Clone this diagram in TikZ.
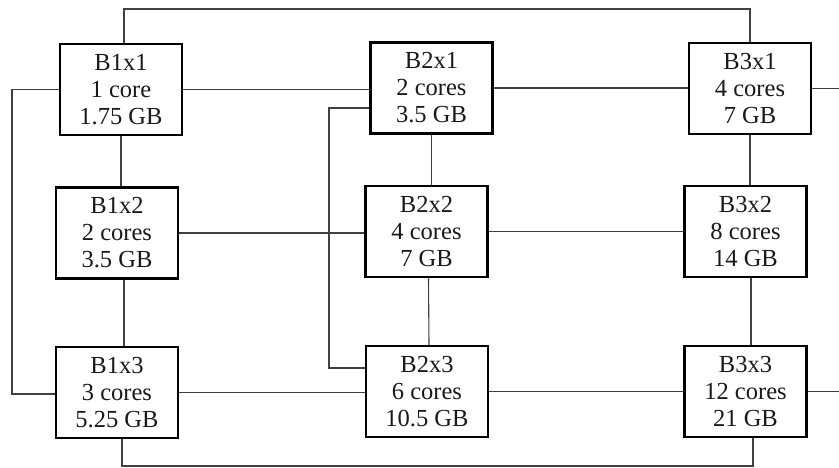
\documentclass[tikz,border=0pt]{standalone}
\usepackage{fontspec}
\setmainfont{Liberation Serif}
\begin{document}
\begin{tikzpicture}[x=1pt,y=-1pt,
  vm/.style={draw=black,line width=2.2pt,minimum width=122pt,minimum height=91pt,inner sep=0pt,
    align=center,font=\fontsize{24.5}{27}\selectfont,text=black!90},
  link/.style={draw=black!75,line width=1.1pt}]
\useasboundingbox (0,0) rectangle (839,468);
\node[vm] (b11) at (121,89.5) {B1x1\\1 core\\1.75 GB};
\node[vm] (b12) at (117,233) {B1x2\\2 cores\\3.5 GB};
\node[vm] (b13) at (117,392.5) {B1x3\\3 cores\\5.25 GB};
\node[vm] (b21) at (431.5,88) {B2x1\\2 cores\\3.5 GB};
\node[vm] (b22) at (426.5,231.5) {B2x2\\4 cores\\7 GB};
\node[vm] (b23) at (427,391.5) {B2x3\\6 cores\\10.5 GB};
\node[vm] (b31) at (750,88.5) {B3x1\\4 cores\\7 GB};
\node[vm] (b32) at (745.5,231.5) {B3x2\\8 cores\\14 GB};
\node[vm] (b33) at (745.5,391.5) {B3x3\\12 cores\\21 GB};
\coordinate (tl) at (124,9);
\coordinate (ll) at (12,240);
\coordinate (ml) at (329,240);
\coordinate (bl) at (122,466);
\coordinate (re1) at (839,88.5);
\coordinate (re3) at (839,391.5);
% top loop
\draw[link] ([xshift=3pt]b11.north) |- (tl) -| (b31.north);
% rows
\draw[link] (b11.east) -- (b11.east -| b21.west);
\draw[link] (b21.east) -- (b21.east -| b31.west);
\draw[link] (b31.east) -- (re1);
\draw[link] (b12.east) -- (b12.east -| b22.west);
\draw[link] (b22.east) -- (b32.west);
\draw[link] (b13.east) -- (b13.east -| b23.west);
\draw[link] (b23.east) -- (b33.west);
\draw[link] (b33.east) -- (re3);
% columns
\draw[link] (b11.south) -- (b11.south |- b12.north);
\draw[link] ([xshift=7pt]b12.south) -- ([xshift=7pt]b13.north);
\draw[link] (b21.south) -- (b21.south |- b22.north);
\draw[link] ([xshift=2pt]b22.south) -- ([xshift=2pt]b23.north);
\draw[link] (b31.south) -- (b31.south |- b32.north);
\draw[link] ([xshift=5.5pt]b32.south) -- ([xshift=5.5pt]b33.north);
% side loops
\draw[link] (b11.west) -| (ll) |- ([yshift=-1.5pt]b13.west);
\draw[link] ([yshift=-20pt]b21.west) -| (ml) |- ([yshift=23.5pt]b23.west);
% bottom loop
\draw[link] ([xshift=5pt]b13.south) |- (bl) -| ([xshift=7.5pt]b33.south);
\end{tikzpicture}
\end{document}
